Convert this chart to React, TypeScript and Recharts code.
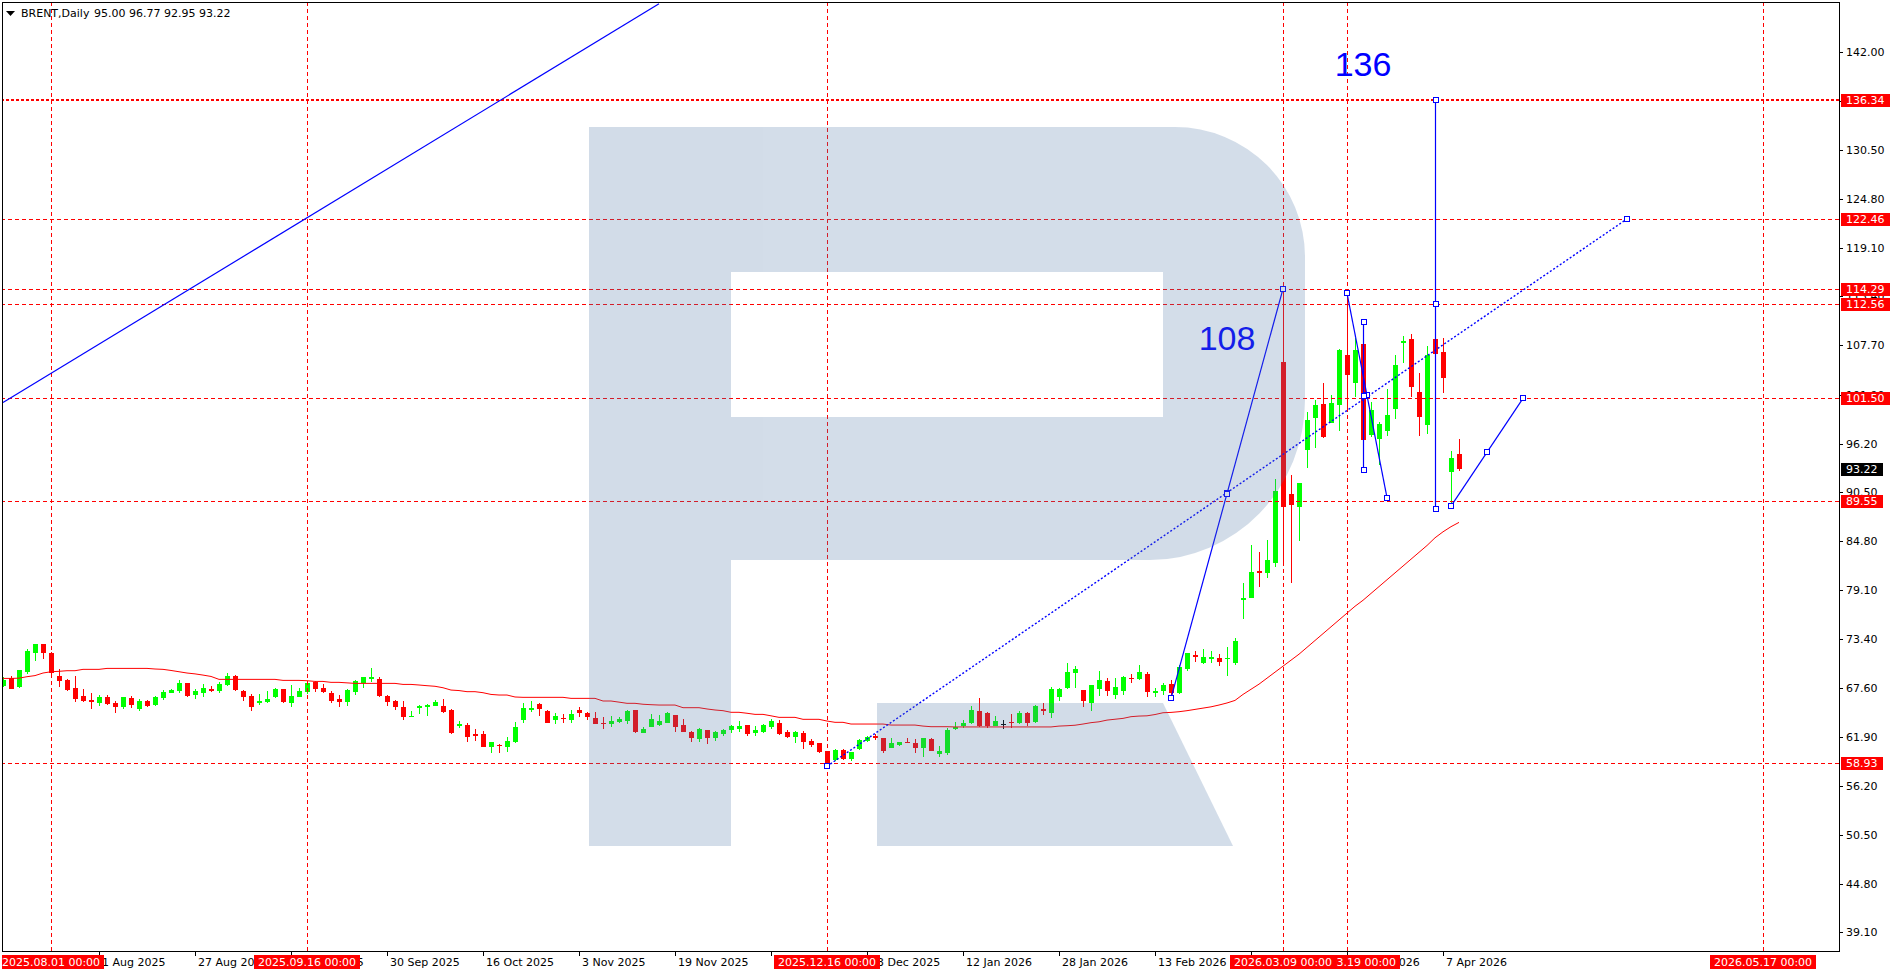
import React from "react";
import {
  ComposedChart,
  Bar,
  Line,
  XAxis,
  YAxis,
  ReferenceLine,
  ReferenceDot,
} from "recharts";

const GREEN = "#00ff00";
const RED = "#ff0000";
const BLUE = "#0000ff";
const FONT = "'DejaVu Sans', sans-serif";

// daily bars, oldest first
const opens = [
  67.92, 68.77, 67.8, 69.55, 71.7, 72.79, 71.73, 69.05, 68.58, 67.64,
  66.71, 66.24, 65.93, 66.63, 65.85, 65.38, 66.48, 65.15, 66.13, 65.66,
  66.52, 67.1, 67.33, 68.19, 66.83, 67.1, 67.53, 67.33, 67.99, 69.05,
  67.29, 66.71, 65.85, 66.05, 66.63, 67.53, 65.93, 66.63, 67.22, 68.38,
  67.61, 67.02, 66.36, 66.05, 67.22, 68.27, 68.69, 68.69, 66.71, 66.13,
  65.38, 64.29, 65.27, 65.38, 65.58, 65.54, 65.07, 63.2, 63.32, 62.23,
  62.27, 60.79, 60.99, 60.79, 61.38, 63.91, 65.08, 65.78, 64.96, 63.91,
  64.18, 63.91, 65.08, 64.69, 64.1, 63.6, 63.44, 63.71, 63.79, 65.08,
  62.43, 63.13, 63.32, 63.6, 64.49, 63.32, 62.55, 61.69, 62.74, 61.84,
  62.27, 62.74, 62.86, 63.32, 62.43, 62.47, 63.13, 63.6, 62.55, 61.88,
  62.43, 61.46, 61.26, 60.29, 59.24, 60.4, 59.36, 60.52, 61.45, 62.04,
  61.77, 60.68, 60.99, 61.38, 61.18, 60.6, 61.69, 59.94, 60.09, 62.82,
  63.2, 63.52, 64.96, 64.76, 63.24, 63.4, 63.71, 63.59, 64.68, 63.71,
  65.23, 64.76, 66.63, 67.68, 69.36, 67.41, 65.93, 67.49, 68.46, 66.83,
  67.33, 68.85, 68.7, 69.28, 67.1, 67.33, 68.07, 67.02, 69.83, 71.5,
  70.6, 71.07, 71.11, 71.0, 70.6, 77.9, 78.2, 81.32, 81.12, 82.21,
  105.78, 90.28, 88.83, 95.46, 99.16, 100.83, 98.65, 100.71, 106.56, 103.25,
  107.84, 97.21, 96.7, 97.71, 100.21, 107.92, 108.39, 102.2, 98.38, 108.39,
  106.87, 92.93, 95.0,
];

const highs = [
  68.89, 69.05, 69.8, 72.16, 72.8, 72.8, 71.89, 69.83, 68.66, 69.05,
  67.49, 67.02, 66.83, 66.79, 66.13, 66.63, 66.71, 66.4, 66.24, 66.71,
  67.41, 67.49, 68.58, 68.27, 67.49, 68.07, 67.88, 68.38, 69.44, 69.16,
  67.41, 66.94, 66.94, 67.33, 67.68, 67.53, 67.99, 67.61, 68.19, 68.5,
  68.11, 67.29, 66.79, 67.49, 68.58, 68.97, 70.02, 68.89, 66.83, 66.24,
  66.17, 64.99, 65.66, 65.77, 66.24, 66.36, 65.19, 63.83, 63.52, 62.85,
  62.62, 61.37, 61.07, 61.88, 63.71, 65.86, 66.13, 65.94, 65.08, 64.77,
  64.57, 65.08, 65.39, 64.88, 64.88, 64.3, 64.38, 64.3, 65.08, 65.08,
  63.13, 64.61, 64.49, 64.88, 64.49, 63.99, 62.63, 62.94, 62.74, 62.63,
  62.82, 63.32, 63.79, 63.32, 63.25, 63.4, 63.99, 63.91, 62.74, 62.63,
  62.63, 61.69, 61.26, 60.29, 60.48, 60.48, 60.21, 61.69, 62.04, 62.27,
  61.84, 61.84, 61.38, 61.84, 61.65, 61.84, 61.84, 60.87, 62.94, 63.71,
  63.9, 65.54, 66.52, 64.84, 64.37, 63.9, 64.6, 64.96, 64.88, 65.66,
  65.93, 67.8, 67.68, 70.6, 70.21, 67.41, 68.0, 69.67, 68.85, 68.77,
  69.05, 69.24, 70.33, 69.55, 67.6, 68.19, 68.58, 70.33, 71.77, 71.97,
  72.16, 71.97, 71.58, 72.4, 73.45, 79.88, 84.36, 83.58, 84.94, 92.07,
  114.29, 92.53, 91.56, 99.93, 101.3, 103.25, 101.88, 107.26, 113.76, 108.5,
  107.9, 101.1, 98.77, 102.58, 106.56, 108.78, 109.01, 104.41, 107.61, 109.2,
  108.5, 95.34, 96.77,
];

const lows = [
  67.8, 67.5, 67.7, 69.24, 70.84, 70.99, 69.28, 67.8, 67.33, 66.05,
  65.97, 65.19, 65.54, 65.66, 64.76, 65.19, 65.27, 65.0, 65.38, 65.54,
  66.24, 67.02, 67.1, 66.55, 66.36, 66.63, 67.22, 67.02, 67.88, 67.33,
  66.17, 64.99, 65.66, 65.93, 66.52, 65.93, 65.46, 66.55, 66.94, 67.22,
  67.1, 65.93, 65.46, 65.58, 66.83, 67.68, 68.3, 66.63, 65.54, 65.07,
  63.9, 64.22, 64.6, 64.37, 65.54, 64.76, 62.27, 62.93, 61.37, 61.49,
  60.71, 60.01, 60.01, 60.21, 61.18, 63.52, 64.81, 64.42, 63.52, 63.4,
  63.52, 63.6, 64.3, 63.91, 63.4, 62.82, 63.13, 63.52, 63.44, 62.43,
  62.35, 63.13, 63.25, 63.52, 62.55, 62.55, 61.38, 61.38, 61.07, 61.49,
  62.04, 62.43, 62.55, 62.04, 62.04, 62.35, 62.82, 62.16, 61.77, 61.26,
  60.52, 60.71, 60.01, 58.38, 59.16, 59.24, 59.16, 60.4, 61.38, 61.57,
  60.09, 60.6, 60.91, 61.18, 60.01, 59.63, 60.33, 59.63, 59.82, 62.74,
  62.93, 63.44, 63.13, 62.93, 63.2, 62.9, 62.93, 63.44, 63.2, 63.59,
  64.49, 64.18, 66.17, 67.49, 67.68, 65.38, 65.0, 66.71, 66.71, 66.32,
  66.83, 68.19, 68.58, 66.63, 66.55, 66.83, 66.63, 66.94, 69.67, 70.72,
  70.41, 70.53, 70.25, 69.05, 70.33, 75.68, 78.12, 79.41, 80.46, 81.75,
  82.21, 79.95, 84.86, 93.31, 95.65, 96.82, 98.57, 97.72, 100.32, 101.69,
  96.5, 97.01, 93.7, 97.09, 99.04, 105.58, 101.69, 97.13, 97.33, 106.3,
  102.08, 89.2, 92.95,
];

const closes = [
  68.58, 67.53, 69.75, 71.97, 72.79, 71.77, 69.36, 68.5, 67.41, 66.32,
  66.13, 66.05, 66.63, 65.77, 65.46, 66.55, 65.66, 66.13, 65.54, 66.55,
  67.22, 67.41, 68.19, 66.71, 67.29, 67.61, 67.29, 68.11, 69.05, 67.41,
  66.63, 65.46, 66.13, 66.36, 67.53, 66.05, 66.71, 67.29, 68.19, 67.53,
  67.22, 66.17, 66.05, 67.41, 68.46, 68.97, 68.89, 66.71, 66.05, 65.46,
  64.29, 64.37, 65.54, 65.66, 66.05, 64.84, 62.35, 63.44, 61.96, 62.07,
  60.79, 61.37, 60.87, 61.45, 63.05, 65.27, 65.27, 65.16, 63.6, 64.38,
  63.99, 64.61, 64.77, 64.22, 63.44, 63.44, 63.79, 64.03, 64.96, 62.55,
  62.82, 63.99, 63.79, 64.69, 63.13, 62.55, 61.84, 62.82, 61.84, 62.55,
  62.74, 63.21, 63.21, 62.27, 62.74, 63.32, 63.79, 62.27, 61.96, 62.55,
  61.38, 60.99, 60.21, 58.77, 60.4, 59.36, 60.13, 61.57, 61.96, 61.84,
  60.33, 61.26, 61.38, 61.18, 60.68, 61.77, 60.33, 60.29, 62.74, 63.05,
  63.59, 65.07, 63.24, 63.24, 63.79, 63.4, 63.52, 64.76, 63.52, 65.54,
  65.0, 67.49, 67.49, 69.48, 69.83, 66.17, 68.0, 68.58, 67.33, 67.8,
  68.89, 68.66, 69.48, 67.22, 67.33, 68.0, 67.02, 70.14, 71.69, 71.3,
  71.23, 71.3, 70.72, 71.15, 73.13, 78.13, 81.24, 81.04, 82.6, 90.7,
  88.83, 89.03, 91.56, 98.96, 100.71, 97.01, 100.91, 107.14, 104.22, 107.14,
  96.62, 100.13, 98.5, 99.55, 105.39, 108.19, 102.78, 99.35, 106.56, 106.63,
  103.91, 94.48, 93.22,
];

// red moving average
const sma = [
  68.77, 68.77, 68.8, 68.97, 69.1, 69.4, 69.55, 69.6, 69.67, 69.67,
  69.83, 69.83, 69.83, 69.94, 69.94, 69.94, 69.94, 69.94, 69.94, 69.87,
  69.83, 69.7, 69.55, 69.4, 69.3, 69.16, 69.0, 68.66, 68.66, 68.66,
  68.66, 68.66, 68.66, 68.66, 68.66, 68.54, 68.54, 68.54, 68.5, 68.42,
  68.42, 68.31, 68.31, 68.25, 68.19, 68.19, 68.19, 68.19, 68.19, 68.19,
  68.07, 68.07, 68.0, 67.92, 67.85, 67.68, 67.41, 67.35, 67.22, 67.22,
  67.1, 66.9, 66.83, 66.83, 66.6, 66.56, 66.56, 66.56, 66.56, 66.56,
  66.56, 66.44, 66.44, 66.44, 66.44, 66.13, 66.13, 66.0, 65.86, 65.86,
  65.75, 65.7, 65.66, 65.66, 65.66, 65.35, 65.35, 65.35, 65.2, 65.08,
  65.0, 64.81, 64.81, 64.7, 64.57, 64.57, 64.4, 64.22, 64.22, 64.22,
  63.99, 63.99, 63.99, 63.79, 63.64, 63.64, 63.44, 63.44, 63.44, 63.44,
  63.44, 63.32, 63.32, 63.32, 63.32, 63.2, 63.13, 63.13, 63.13, 63.1,
  63.1, 63.1, 63.1, 63.1, 63.1, 63.1, 63.1, 63.1, 63.1, 63.1,
  63.1, 63.1, 63.2, 63.24, 63.3, 63.44, 63.6, 63.7, 63.9, 64.0,
  64.1, 64.3, 64.37, 64.4, 64.55, 64.76, 64.8, 64.88, 65.0, 65.15,
  65.3, 65.45, 65.66, 65.9, 66.2, 66.9, 67.5, 68.1, 68.8, 69.5,
  70.2, 70.9, 71.6, 72.4, 73.2, 74.0, 74.8, 75.6, 76.4, 77.2,
  77.9, 78.7, 79.5, 80.3, 81.1, 81.9, 82.7, 83.5, 84.3, 85.2,
  85.9, 86.5, 87.0,
];

const TOTAL_BARS = 230;
const Y_MIN = 36.92;
const Y_MAX = 147.69;

const tickBars = [12, 24, 36, 48, 60, 72, 84, 96, 108, 120, 132, 144, 156, 168, 180];
const tickLabels = [
  "1 Aug 2025", "27 Aug 2025", "12 Sep 2025", "30 Sep 2025", "16 Oct 2025",
  "3 Nov 2025", "19 Nov 2025", "5 Dec 2025", "23 Dec 2025", "12 Jan 2026",
  "28 Jan 2026", "13 Feb 2026", "3 Mar 2026", "19 Mar 2026", "7 Apr 2026",
];
const yTicks = [
  39.1, 44.8, 50.5, 56.2, 61.9, 67.6, 73.4, 79.1, 84.8, 90.5, 96.2,
  101.9, 107.7, 113.4, 119.1, 124.8, 130.5, 136.2, 142.0,
];

const levels = [122.46, 114.29, 112.56, 101.5, 89.55, 58.93];
const topLevel = 136.34;
const lastPrice = 93.22;

const vLineBars = [6, 38, 103, 168, 160, 220];
const vLineDates = [
  "2025.08.01 00:00", "2025.09.16 00:00", "2025.12.16 00:00",
  "2026.03.19 00:00", "2026.03.09 00:00", "2026.05.17 00:00",
];

// [bar, price, bar, price]
const markedTrends = [
  [146, 66.44, 160, 114.29],
  [168, 113.8, 173, 89.9],
  [170, 110.4, 170, 93.1],
  [179, 136.34, 179, 88.6],
  [181, 88.9, 190, 101.5],
];
const dottedTrend = [103, 58.5, 203, 122.46];
const longTrend = [0, 101.0, 82, 147.6];

const noteBars = [153, 170];
const notePrices = [108.5, 140.6];
const noteTexts = ["108", "136"];

const rows = Array.from({ length: TOTAL_BARS }, (_, i) =>
  i < opens.length
    ? {
        i,
        o: opens[i],
        h: highs[i],
        l: lows[i],
        c: closes[i],
        range: [lows[i], highs[i]],
        ma: sma[i],
      }
    : { i }
);

const Candle = (p: any) => {
  const { x, y, width, height, payload } = p;
  if (!payload || payload.o == null) return <g />;
  const { o, h, l, c } = payload;
  const cx = Math.round(x + width / 2);
  const py = (v: number) => (h === l ? y : y + ((h - v) / (h - l)) * height);
  const col = c > o ? GREEN : c < o ? RED : "#000";
  const hy = Math.round(py(h));
  const ly = Math.round(py(l));
  const top = Math.round(py(Math.max(o, c)));
  const bot = Math.round(py(Math.min(o, c)));
  return (
    <g>
      <rect x={cx} y={hy} width={1} height={Math.max(1, ly - hy)} fill={col} />
      <rect x={cx - 2} y={top} width={5} height={Math.max(1, bot - top)} fill={col} />
    </g>
  );
};

// time-axis label, drawn at the bottom edge of a vertical reference line
const timeTick = (text: string) => (props: any) => {
  const vb = props.viewBox;
  const x = vb.x;
  const y = vb.y + vb.height;
  return (
    <g>
      <line x1={x + 0.5} y1={y} x2={x + 0.5} y2={y + 5} stroke="#000" />
      <text x={x + 3} y={y + 15} fontSize={11} fontFamily={FONT} fill="#000">
        {text}
      </text>
    </g>
  );
};

// price-axis label, drawn at the right end of a horizontal reference line
const priceTick = (value: number) => (props: any) => {
  const vb = props.viewBox;
  const x = vb.x + vb.width;
  const ly = Math.round(vb.y) + 0.5;
  return (
    <g>
      <line x1={x} y1={ly} x2={x + 4} y2={ly} stroke="#000" />
      <text x={x + 7} y={vb.y + 4} fontSize={11} fontFamily={FONT} fill="#000">
        {value.toFixed(2)}
      </text>
    </g>
  );
};

const priceTag = (value: number, bg: string) => (props: any) => {
  const vb = props.viewBox;
  const text = value.toFixed(2);
  const x = vb.x + vb.width + 2;
  const w = text.length * 7 + 7;
  return (
    <g>
      <rect x={x} y={Math.round(vb.y) - 6} width={w} height={13} fill={bg} />
      <text x={x + 5} y={vb.y + 4} fontSize={11} fontFamily={FONT} fill="#fff">
        {text}
      </text>
    </g>
  );
};

const dateTag = (text: string) => (props: any) => {
  const vb = props.viewBox;
  const w = 106;
  const left = vb.x - w / 2;
  const by = vb.y + vb.height;
  return (
    <g>
      <rect x={left} y={by + 4} width={w} height={14} fill={RED} />
      <text x={vb.x} y={by + 15} textAnchor="middle" fontSize={11} fontFamily={FONT} fill="#fff">
        {text}
      </text>
    </g>
  );
};

const dashedShape = (w: number, dash: string) => (p: any) => {
  const vertical = Math.abs(p.x1 - p.x2) < 0.01;
  const x1 = vertical ? Math.round(p.x1) + 0.5 : p.x1;
  const x2 = vertical ? Math.round(p.x2) + 0.5 : p.x2;
  const off = w % 2 === 1 ? 0.5 : 0;
  const y1 = vertical ? p.y1 : Math.round(p.y1) + off;
  const y2 = vertical ? p.y2 : Math.round(p.y2) + off;
  return <line x1={x1} y1={y1} x2={x2} y2={y2} stroke={RED} strokeWidth={w} strokeDasharray={dash} />;
};

const trendShape = (marks: boolean, dash?: string, w = 1.2) => (p: any) => {
  const vertical = Math.abs(p.x1 - p.x2) < 0.01;
  const x1 = vertical ? Math.round(p.x1) + 0.5 : p.x1;
  const x2 = vertical ? Math.round(p.x2) + 0.5 : p.x2;
  const pts = [
    [x1, p.y1],
    [(x1 + x2) / 2, (p.y1 + p.y2) / 2],
    [x2, p.y2],
  ];
  return (
    <g>
      <line x1={x1} y1={p.y1} x2={x2} y2={p.y2} stroke={BLUE} strokeWidth={w} strokeDasharray={dash} />
      {marks &&
        pts.map(([mx, my], k) => (
          <rect
            key={k}
            x={Math.round(mx) - 2.5}
            y={Math.round(my) - 2.5}
            width={5}
            height={5}
            fill="#fff"
            stroke={BLUE}
            strokeWidth={1}
          />
        ))}
    </g>
  );
};

const noteShape = (text: string) => (p: any) => (
  <text
    x={p.cx}
    y={p.cy + 12}
    textAnchor="middle"
    fontSize={34}
    fontFamily="'Liberation Sans', Arial, sans-serif"
    fill={BLUE}
  >
    {text}
  </text>
);

const empty = () => <g />;

const seg = (t: number[]) => [
  { x: t[0], y: t[1] },
  { x: t[2], y: t[3] },
];

export default function App() {
  const last = opens.length - 1;
  const ohlc = [opens[last], highs[last], lows[last], closes[last]]
    .map((v) => v.toFixed(2))
    .join(" ");

  return (
    <div
      style={{
        position: "absolute",
        left: 0,
        top: 0,
        width: 1896,
        height: 975,
        overflow: "hidden",
        background: "#fff",
      }}
    >
      <div style={{ position: "absolute", left: -1, top: 0 }}>
        <ComposedChart
          width={1897}
          height={975}
          data={rows}
          margin={{ top: 3, right: 0, bottom: 0, left: 0 }}
          barCategoryGap={0}
          barGap={0}
        >
          <XAxis
            dataKey="i"
            type="category"
            height={24}
            interval={0}
            axisLine={false}
            tickLine={false}
            tick={false}
          />
          <YAxis
            orientation="right"
            type="number"
            width={57}
            domain={[Y_MIN, Y_MAX]}
            allowDataOverflow
            ticks={yTicks}
            axisLine={false}
            tickLine={false}
            tick={false}
          />
          <Bar dataKey="range" shape={Candle} isAnimationActive={false} />
          <Line
            dataKey="ma"
            stroke={RED}
            strokeWidth={1}
            dot={false}
            activeDot={false}
            isAnimationActive={false}
          />

          {/* axis ticks first, so the coloured tags cover them */}
          {tickBars.map((b, k) => (
            <ReferenceLine
              key={"xt" + k}
              x={b}
              ifOverflow="visible"
              shape={empty}
              label={timeTick(tickLabels[k])}
            />
          ))}
          {yTicks.map((v) => (
            <ReferenceLine
              key={"yt" + v}
              y={v}
              ifOverflow="visible"
              shape={empty}
              label={priceTick(v)}
            />
          ))}

          {vLineBars.map((b, k) => (
            <ReferenceLine
              key={"v" + k}
              x={b}
              ifOverflow="visible"
              shape={dashedShape(1, "4 3")}
              label={dateTag(vLineDates[k])}
            />
          ))}
          <ReferenceLine
            y={topLevel}
            ifOverflow="visible"
            shape={dashedShape(2, "3 2")}
            label={priceTag(topLevel, RED)}
          />
          {levels.map((v) => (
            <ReferenceLine
              key={"h" + v}
              y={v}
              ifOverflow="visible"
              shape={dashedShape(1, "4 3")}
              label={priceTag(v, RED)}
            />
          ))}
          <ReferenceLine
            y={lastPrice}
            ifOverflow="visible"
            shape={empty}
            label={priceTag(lastPrice, "#000")}
          />

          <ReferenceLine segment={seg(longTrend)} ifOverflow="visible" shape={trendShape(false)} />
          <ReferenceLine
            segment={seg(dottedTrend)}
            ifOverflow="visible"
            shape={trendShape(true, "2 2", 1.4)}
          />
          {markedTrends.map((t, k) => (
            <ReferenceLine key={"t" + k} segment={seg(t)} ifOverflow="visible" shape={trendShape(true)} />
          ))}
          {noteBars.map((b, k) => (
            <ReferenceDot
              key={"n" + k}
              x={b}
              y={notePrices[k]}
              r={0}
              ifOverflow="visible"
              shape={noteShape(noteTexts[k])}
            />
          ))}
        </ComposedChart>
      </div>

      <svg
        width={1896}
        height={975}
        style={{ position: "absolute", left: 0, top: 0, pointerEvents: "none" }}
      >
        {/* watermark logo */}
        <g fill="rgb(81,121,166)" opacity={0.25}>
          <rect x={589} y={127} width={142} height={719} />
          <path
            fillRule="evenodd"
            d="M731 127 H1175 A130 130 0 0 1 1305 257 V400 A155 160 0 0 1 1150 560 H731 Z M731 272 H1163 V417 H731 Z"
          />
          <path d="M877 703 H1163 L1233 846 H877 Z" />
        </g>
        {/* frame */}
        <rect x={0} y={0} width={2} height={975} fill="#fff" />
        <line x1={2.5} y1={2} x2={2.5} y2={952} stroke="#000" />
        <line x1={2} y1={2.5} x2={1840} y2={2.5} stroke="#000" />
        <line x1={1839.5} y1={2} x2={1839.5} y2={952} stroke="#000" />
        <line x1={2} y1={951.5} x2={1840} y2={951.5} stroke="#000" />
        {/* header */}
        <polygon points="6,11 15,11 10.5,16" fill="#000" />
        <text x={21} y={17} fontSize={11} fontFamily={FONT} fill="#000">
          BRENT,Daily
        </text>
        <text x={94} y={17} fontSize={11} fontFamily={FONT} fill="#000">
          {ohlc}
        </text>
      </svg>
    </div>
  );
}
